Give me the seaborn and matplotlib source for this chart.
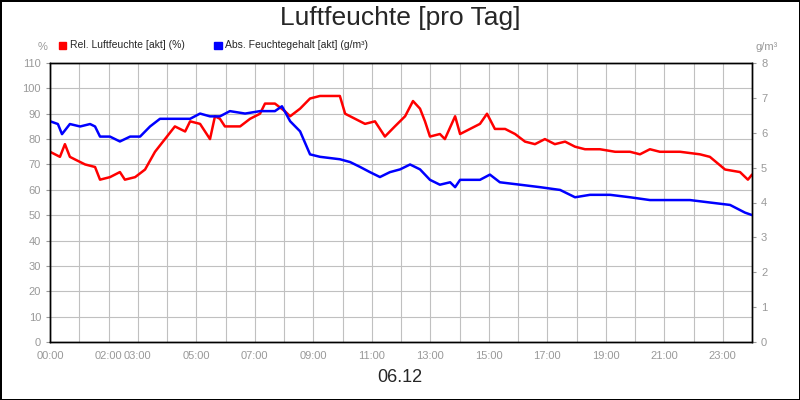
import matplotlib
matplotlib.use('Agg')
import matplotlib.pyplot as plt
import seaborn as sns
import pandas as pd

sns.set_style("white")
plt.rcParams['font.family'] = ['Liberation Sans', 'DejaVu Sans']

# Relative humidity (%) over the day, hours since 00:00
rel_hours = [0, 0.34, 0.51, 0.68, 0.85, 1.2, 1.54, 1.71, 2.05, 2.39, 2.56, 2.91, 3.25, 3.59, 3.93,
             4.27, 4.62, 4.79, 5.13, 5.47, 5.64, 5.81, 5.98, 6.5, 6.84, 7.18, 7.35, 7.69, 8.03, 8.21,
             8.55, 8.89, 9.23, 9.91, 10.09, 10.43, 10.77, 11.11, 11.45, 11.79, 12.14, 12.41, 12.65,
             12.82, 12.99, 13.33, 13.5, 13.85, 14.02, 14.36, 14.7, 14.94, 15.21, 15.56, 15.9, 16.24,
             16.58, 16.92, 17.26, 17.61, 17.95, 18.29, 18.8, 19.32, 19.83, 20.17, 20.51, 20.85, 21.54,
             22.22, 22.56, 23.08, 23.59, 23.86, 24]
rel_values = [75, 73, 78, 73, 72, 70, 69, 64, 65, 67, 64, 65, 68, 75, 80,
              85, 83, 87, 86, 80, 89, 88, 85, 85, 88, 90, 94, 94, 91, 89,
              92, 96, 97, 97, 90, 88, 86, 87, 81, 85, 89, 95, 92,
              87, 81, 82, 80, 89, 82, 84, 86, 90, 84, 84, 82, 79,
              78, 80, 78, 79, 77, 76, 76, 75, 75, 74, 76, 75, 75,
              74, 73, 68, 67, 64, 66]

# Absolute moisture content (g/m³)
abs_hours = [0, 0.27, 0.41, 0.68, 1.03, 1.37, 1.54, 1.71, 2.05, 2.39, 2.74, 3.08, 3.42, 3.76, 4.27,
             4.79, 5.13, 5.47, 5.81, 6.15, 6.67, 7.18, 7.69, 7.93, 8.21, 8.55, 8.89, 9.23, 9.91,
             10.26, 10.6, 10.94, 11.28, 11.62, 11.97, 12.31, 12.65, 12.99, 13.33, 13.68, 13.85,
             14.02, 14.7, 15.04, 15.38, 16.07, 16.75, 17.44, 17.95, 18.46, 19.15, 19.83, 20.51,
             21.2, 21.88, 22.56, 23.25, 23.76, 24]
abs_values = [6.33, 6.25, 5.96, 6.25, 6.18, 6.25, 6.18, 5.89, 5.89, 5.75, 5.89, 5.89, 6.18, 6.4, 6.4,
              6.4, 6.55, 6.47, 6.47, 6.62, 6.55, 6.62, 6.62, 6.76, 6.33, 6.04, 5.38, 5.31, 5.24,
              5.16, 5.02, 4.87, 4.73, 4.87, 4.95, 5.09, 4.95, 4.65, 4.51, 4.58, 4.44,
              4.65, 4.65, 4.8, 4.58, 4.51, 4.44, 4.36, 4.15, 4.22, 4.22, 4.15, 4.07,
              4.07, 4.07, 4.0, 3.93, 3.71, 3.64]

tick_hours = [0, 2, 3, 5, 7, 9, 11, 13, 15, 17, 19, 21, 23]
tick_labels = [f'{h:02d}:00' for h in tick_hours]

red = '#ff0000'
blue = '#0000ff'
gray = '#999999'

fig = plt.figure(figsize=(8, 4), dpi=100)
fig.patch.set_edgecolor('black')
fig.patch.set_linewidth(2)
ax = fig.add_axes([0.0625, 0.145, 0.8775, 0.6975])
ax2 = ax.twinx()

rel_df = pd.DataFrame({'h': rel_hours, 'v': rel_values})
abs_df = pd.DataFrame({'h': abs_hours, 'v': abs_values})
sns.lineplot(data=rel_df, x='h', y='v', ax=ax, color=red, linewidth=1.8)
sns.lineplot(data=abs_df, x='h', y='v', ax=ax2, color=blue, linewidth=1.8)

ax.set_xlim(0, 24)
ax.set_ylim(0, 110)
ax2.set_ylim(0, 8)
ax.set_yticks(range(0, 111, 10))
ax2.set_yticks(range(0, 9))
ax.set_xticks(tick_hours)
ax.set_xticklabels(tick_labels)
ax.set_xticks(range(25), minor=True)
ax.grid(True, which='both', axis='x', color='#c0c0c0', linewidth=0.8)
ax.grid(True, which='major', axis='y', color='#c0c0c0', linewidth=0.8)
ax.set_axisbelow(True)
for a in (ax, ax2):
    a.set_xlabel('')
    a.set_ylabel('')
    a.tick_params(labelsize=8, labelcolor=gray, color=gray, length=3)
    for s in a.spines.values():
        s.set_color('black')
        s.set_linewidth(1)
ax.tick_params(which='minor', length=2, color=gray)

fig.text(0.5, 0.955, 'Luftfeuchte [pro Tag]', ha='center', va='center', fontsize=19)
fig.text(0.5, 0.055, '06.12', ha='center', va='center', fontsize=13)
fig.text(0.053, 0.882, '%', ha='center', va='center', fontsize=8, color=gray)
fig.text(0.958, 0.882, 'g/m³', ha='center', va='center', fontsize=8, color=gray)

# legend squares
fig.patches.append(plt.Rectangle((0.074, 0.878), 0.009, 0.018, color=red, transform=fig.transFigure))
fig.text(0.087, 0.887, 'Rel. Luftfeuchte [akt] (%)', va='center', fontsize=7.5)
fig.patches.append(plt.Rectangle((0.268, 0.878), 0.009, 0.018, color=blue, transform=fig.transFigure))
fig.text(0.281, 0.887, 'Abs. Feuchtegehalt [akt] (g/m³)', va='center', fontsize=7.5)

fig.savefig('out.png', dpi=100, edgecolor=fig.get_edgecolor())
